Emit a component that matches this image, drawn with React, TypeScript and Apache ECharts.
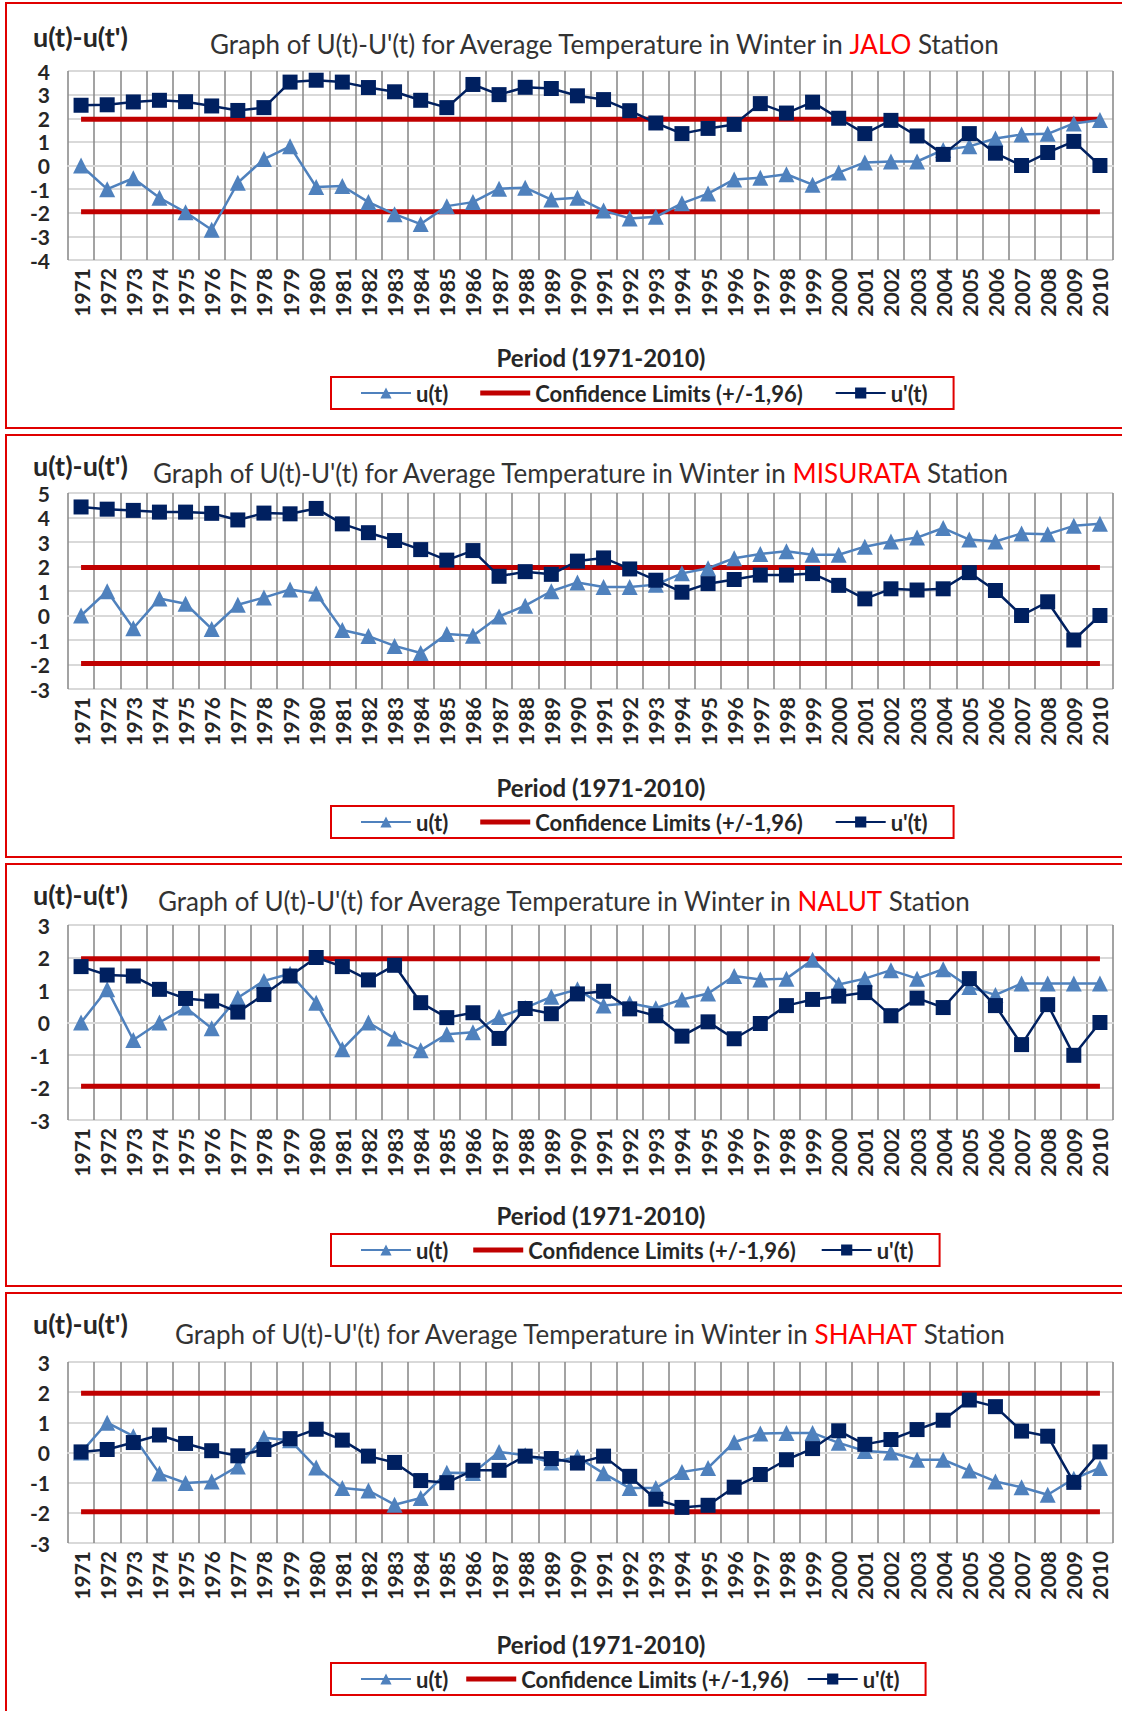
import React, { useEffect, useRef } from "react";
import * as echarts from "echarts";

const years = [
  "1971", "1972", "1973", "1974", "1975", "1976", "1977", "1978", "1979", "1980",
  "1981", "1982", "1983", "1984", "1985", "1986", "1987", "1988", "1989", "1990",
  "1991", "1992", "1993", "1994", "1995", "1996", "1997", "1998", "1999", "2000",
  "2001", "2002", "2003", "2004", "2005", "2006", "2007", "2008", "2009", "2010",
];

const confLimit = 1.96;

const jaloU = [
  0, -1.0, -0.54, -1.37, -1.98, -2.72, -0.73, 0.27, 0.81, -0.91,
  -0.87, -1.55, -2.06, -2.48, -1.72, -1.55, -0.98, -0.94, -1.44, -1.36,
  -1.91, -2.24, -2.17, -1.6, -1.19, -0.59, -0.52, -0.37, -0.81, -0.3,
  0.13, 0.17, 0.17, 0.66, 0.81, 1.14, 1.31, 1.34, 1.78, 1.93,
];
const jaloUp = [
  2.55, 2.57, 2.69, 2.76, 2.7, 2.52, 2.33, 2.45, 3.53, 3.61,
  3.53, 3.3, 3.12, 2.76, 2.45, 3.43, 3.0, 3.31, 3.26, 2.95,
  2.79, 2.32, 1.8, 1.35, 1.57, 1.74, 2.62, 2.22, 2.68, 2.0,
  1.35, 1.91, 1.25, 0.47, 1.35, 0.52, 0, 0.55, 1.02, 0,
];
const misurataU = [
  0, 0.99, -0.52, 0.69, 0.48, -0.55, 0.44, 0.73, 1.06, 0.9,
  -0.59, -0.84, -1.24, -1.53, -0.76, -0.83, -0.04, 0.4, 0.99, 1.35,
  1.16, 1.16, 1.26, 1.72, 1.93, 2.34, 2.51, 2.62, 2.48, 2.48,
  2.81, 3.02, 3.18, 3.57, 3.1, 3.02, 3.35, 3.32, 3.66, 3.74,
];
const misurataUp = [
  4.43, 4.34, 4.29, 4.22, 4.22, 4.17, 3.9, 4.18, 4.15, 4.37,
  3.74, 3.38, 3.06, 2.69, 2.26, 2.65, 1.6, 1.79, 1.68, 2.22,
  2.35, 1.9, 1.44, 0.95, 1.3, 1.47, 1.65, 1.65, 1.71, 1.23,
  0.68, 1.09, 1.04, 1.09, 1.75, 1.02, 0, 0.56, -1.0, 0,
];
const nalutU = [
  0, 1.02, -0.54, 0, 0.46, -0.18, 0.76, 1.28, 1.5, 0.61,
  -0.82, 0, -0.49, -0.85, -0.36, -0.3, 0.17, 0.45, 0.79, 1.02,
  0.52, 0.59, 0.44, 0.71, 0.89, 1.43, 1.32, 1.35, 1.93, 1.17,
  1.35, 1.61, 1.35, 1.64, 1.09, 0.85, 1.2, 1.2, 1.2, 1.2,
];
const nalutUp = [
  1.72, 1.46, 1.43, 1.02, 0.74, 0.66, 0.32, 0.86, 1.43, 2.0,
  1.72, 1.31, 1.76, 0.61, 0.15, 0.3, -0.49, 0.43, 0.27, 0.88,
  0.96, 0.42, 0.21, -0.42, 0.02, -0.5, -0.03, 0.52, 0.71, 0.81,
  0.92, 0.21, 0.75, 0.46, 1.35, 0.52, -0.68, 0.55, -1.01, 0,
];
const shahatU = [
  0, 0.99, 0.54, -0.7, -1.01, -0.96, -0.46, 0.49, 0.41, -0.5,
  -1.18, -1.26, -1.73, -1.51, -0.67, -0.68, 0.02, -0.09, -0.33, -0.15,
  -0.69, -1.18, -1.18, -0.65, -0.51, 0.34, 0.63, 0.65, 0.65, 0.32,
  0.05, 0, -0.24, -0.24, -0.6, -0.96, -1.15, -1.4, -0.87, -0.51,
];
const shahatUp = [
  0.02, 0.1, 0.33, 0.58, 0.3, 0.06, -0.11, 0.1, 0.46, 0.77,
  0.41, -0.12, -0.33, -0.93, -1.0, -0.59, -0.59, -0.12, -0.2, -0.35,
  -0.12, -0.79, -1.55, -1.82, -1.75, -1.15, -0.73, -0.24, 0.13, 0.72,
  0.27, 0.43, 0.76, 1.07, 1.74, 1.52, 0.71, 0.54, -0.99, 0.02,
];

const U_NAME = "u(t)";
const UP_NAME = "u'(t)";
const CONF_NAME = "Confidence Limits (+/-1,96)";
const AXIS_NAME = "u(t)-u(t')";
const PERIOD = "Period (1971-2010)";

const FONT = "Lato, 'Open Sans', sans-serif";
const RED_BORDER = "#e00000";
const TEXT = "#262626";

const panels = [
  { station: "JALO", u: jaloU, up: jaloUp, yMin: -4, yMax: 4,
    boxTop: 3, boxBottom: 428, labY: 36, titleY: 44, titleX: 210,
    gridTop: 71, gridBottom: 260, periodY: 357, legendTop: 377, legendGap: 32 },
  { station: "MISURATA", u: misurataU, up: misurataUp, yMin: -3, yMax: 5,
    boxTop: 435, boxBottom: 857, labY: 465, titleY: 473, titleX: 153,
    gridTop: 493, gridBottom: 689, periodY: 787, legendTop: 806, legendGap: 32 },
  { station: "NALUT", u: nalutU, up: nalutUp, yMin: -3, yMax: 3,
    boxTop: 864, boxBottom: 1286, labY: 894, titleY: 901, titleX: 158,
    gridTop: 925, gridBottom: 1120, periodY: 1215, legendTop: 1234, legendGap: 25 },
  { station: "SHAHAT", u: shahatU, up: shahatUp, yMin: -3, yMax: 3,
    boxTop: 1293, boxBottom: 1725, labY: 1323, titleY: 1334, titleX: 175,
    gridTop: 1362, gridBottom: 1543, periodY: 1644, legendTop: 1663, legendGap: 18 },
];

const PLOT_LEFT = 68;
const PLOT_RIGHT = 1113;

export default function App() {
  const ref = useRef<HTMLDivElement>(null);

  useEffect(() => {
    if (!ref.current) return;
    const chart = echarts.init(ref.current, undefined, { renderer: "svg" });

    const grids: any[] = [];
    const xAxes: any[] = [];
    const yAxes: any[] = [];
    const series: any[] = [];
    const legends: any[] = [];
    const graphics: any[] = [];

    panels.forEach((p, i) => {
      grids.push({
        left: PLOT_LEFT,
        width: PLOT_RIGHT - PLOT_LEFT,
        top: p.gridTop,
        height: p.gridBottom - p.gridTop,
      });
      xAxes.push({
        type: "category",
        gridIndex: i,
        data: years,
        boundaryGap: true,
        axisLine: { show: true, lineStyle: { color: "#d9d9d9", width: 2 } },
        axisTick: { show: false },
        axisLabel: {
          interval: 0,
          rotate: 90,
          margin: 8,
          fontFamily: FONT,
          fontWeight: "bold",
          fontSize: 21,
          color: TEXT,
        },
        splitLine: { show: true, interval: 0, lineStyle: { color: "#8c8c8c", width: 1.6 } },
      });
      yAxes.push({
        type: "value",
        gridIndex: i,
        min: p.yMin,
        max: p.yMax,
        interval: 1,
        axisLine: { show: false },
        axisTick: { show: false },
        axisLabel: {
          margin: 18,
          fontFamily: FONT,
          fontWeight: "bold",
          fontSize: 21,
          color: TEXT,
        },
        splitLine: { show: true, lineStyle: { color: "#d9d9d9", width: 2 } },
      });

      const first = years[0];
      const last = years[years.length - 1];
      [confLimit, -confLimit].forEach((v) => {
        series.push({
          type: "line",
          name: CONF_NAME,
          xAxisIndex: i,
          yAxisIndex: i,
          data: [[first, v], [last, v]],
          symbol: "none",
          lineStyle: { color: "#c00000", width: 5 },
          itemStyle: { color: "#c00000" },
          z: 2,
        });
      });
      series.push({
        type: "line",
        name: U_NAME,
        xAxisIndex: i,
        yAxisIndex: i,
        data: p.u,
        symbol: "triangle",
        symbolSize: 16,
        lineStyle: { color: "#4f81bd", width: 2.5 },
        itemStyle: { color: "#4f81bd" },
        z: 3,
      });
      series.push({
        type: "line",
        name: UP_NAME,
        xAxisIndex: i,
        yAxisIndex: i,
        data: p.up,
        symbol: "rect",
        symbolSize: 15,
        lineStyle: { color: "#002060", width: 2.5 },
        itemStyle: { color: "#002060" },
        z: 4,
      });

      legends.push({
        data: [
          U_NAME,
          { name: CONF_NAME, icon: "path://M0,0 L50,0 L50,5 L0,5 Z", itemStyle: { color: "#c00000" } },
          UP_NAME,
        ],
        left: 331,
        top: p.legendTop,
        orient: "horizontal",
        itemWidth: 50,
        itemHeight: 14,
        itemGap: p.legendGap,
        padding: [5, 26, 5, 29],
        borderColor: RED_BORDER,
        borderWidth: 2,
        selectedMode: false,
        textStyle: { fontFamily: FONT, fontWeight: "bold", fontSize: 22, color: TEXT },
      });

      graphics.push({
        type: "rect",
        shape: { x: 6, y: p.boxTop, width: 1130, height: p.boxBottom - p.boxTop },
        style: { fill: "none", stroke: RED_BORDER, lineWidth: 2 },
        silent: true,
        z: -1,
      });
      graphics.push({
        type: "text",
        x: 33,
        y: p.labY,
        style: {
          text: AXIS_NAME,
          fill: TEXT,
          font: `bold 27px ${FONT}`,
          align: "left",
          verticalAlign: "middle",
        },
      });
      graphics.push({
        type: "text",
        x: p.titleX,
        y: p.titleY,
        style: {
          text: `{a|Graph of U(t)-U'(t) for Average Temperature in Winter in\u2009}{r|${p.station}}{a| Station}`,
          align: "left",
          verticalAlign: "middle",
          rich: {
            a: { fill: "#333333", fontSize: 26, fontFamily: FONT },
            r: { fill: "#ff0000", fontSize: 26, fontFamily: FONT },
          },
        },
      });
      graphics.push({
        type: "text",
        x: 601,
        y: p.periodY,
        style: {
          text: PERIOD,
          fill: TEXT,
          font: `bold 24px ${FONT}`,
          align: "center",
          verticalAlign: "middle",
        },
      });
    });

    chart.setOption({
      animation: false,
      backgroundColor: "#ffffff",
      grid: grids,
      xAxis: xAxes,
      yAxis: yAxes,
      series,
      legend: legends,
      graphic: { elements: graphics },
    });

    return () => {
      chart.dispose();
    };
  }, []);

  return (
    <div
      ref={ref}
      style={{ position: "absolute", left: 0, top: 0, width: 1122, height: 1711, background: "#fff" }}
    />
  );
}
